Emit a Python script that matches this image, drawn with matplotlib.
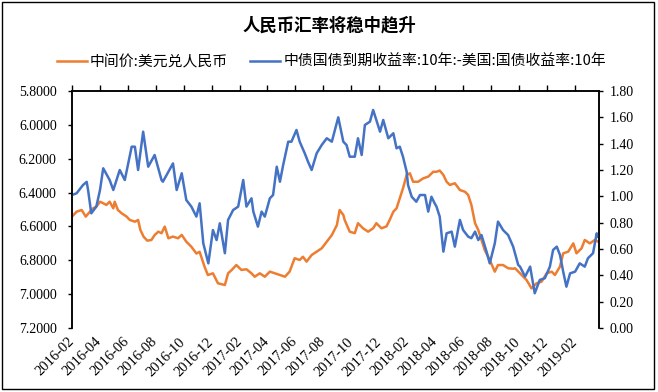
import matplotlib
matplotlib.use("Agg")
import matplotlib.pyplot as plt
import matplotlib.dates as mdates
from matplotlib.ticker import FormatStrFormatter, MultipleLocator
from matplotlib.patches import Rectangle
import pandas as pd

# Texts and colours
TITLE = "人民币汇率将稳中趋升"
CNY_LABEL = "中间价:美元兑人民币"
SPREAD_LABEL = "中债国债到期收益率:10年:-美国:国债收益率:10年"
CNY_COLOR = "#ED7D31"
SPREAD_COLOR = "#4472C4"
CJK_FONT = ["Noto Sans CJK SC", "DejaVu Sans"]
NUM_FONT = "Liberation Serif"

# USD/CNY central parity (left axis, inverted)
cny_dates = [
    "2016-02-01", "2016-02-11", "2016-02-22", "2016-03-02", "2016-03-11", "2016-03-18", "2016-03-25",
    "2016-04-02", "2016-04-09", "2016-04-16", "2016-04-23", "2016-05-01", "2016-05-04", "2016-05-11",
    "2016-05-19", "2016-05-30", "2016-06-06", "2016-06-17", "2016-06-24", "2016-06-29", "2016-07-06",
    "2016-07-14", "2016-07-23", "2016-07-30", "2016-08-07", "2016-08-14", "2016-08-21", "2016-08-29",
    "2016-09-08", "2016-09-19", "2016-09-27", "2016-10-07", "2016-10-18", "2016-10-29", "2016-11-05",
    "2016-11-16", "2016-11-23", "2016-12-04", "2016-12-15", "2016-12-30", "2017-01-06", "2017-01-14",
    "2017-01-24", "2017-02-04", "2017-02-15", "2017-02-26", "2017-03-05", "2017-03-16", "2017-03-27",
    "2017-04-07", "2017-04-18", "2017-04-29", "2017-05-10", "2017-05-20", "2017-05-31", "2017-06-11",
    "2017-06-18", "2017-06-26", "2017-07-07", "2017-07-18", "2017-07-29", "2017-08-09", "2017-08-20",
    "2017-08-31", "2017-09-06", "2017-09-14", "2017-09-17", "2017-09-28", "2017-10-09", "2017-10-16",
    "2017-10-27", "2017-11-07", "2017-11-18", "2017-11-25", "2017-12-06", "2017-12-17", "2017-12-24",
    "2018-01-01", "2018-01-08", "2018-01-15", "2018-01-22", "2018-01-30", "2018-02-06", "2018-02-13",
    "2018-02-24", "2018-03-07", "2018-03-18", "2018-03-29", "2018-04-05", "2018-04-12", "2018-04-20",
    "2018-04-27", "2018-05-04", "2018-05-15", "2018-05-26", "2018-06-06", "2018-06-13", "2018-06-20",
    "2018-06-28", "2018-07-05", "2018-07-12", "2018-07-19", "2018-07-30", "2018-08-10", "2018-08-17",
    "2018-08-28", "2018-09-08", "2018-09-19", "2018-09-23", "2018-10-04", "2018-10-18", "2018-10-29",
    "2018-11-09", "2018-11-20", "2018-12-01", "2018-12-12", "2018-12-19", "2018-12-30", "2019-01-06",
    "2019-01-17", "2019-01-28", "2019-02-04", "2019-02-15", "2019-02-22", "2019-03-05", "2019-03-16",
    "2019-03-23",
]
cny_mid = [
    6.542, 6.513, 6.503, 6.542, 6.513, 6.493, 6.483,
    6.454, 6.463, 6.473, 6.454, 6.493, 6.454, 6.503,
    6.522, 6.542, 6.562, 6.572, 6.562, 6.621, 6.661,
    6.684, 6.680, 6.651, 6.631, 6.640, 6.601, 6.670,
    6.660, 6.670, 6.650, 6.690, 6.720, 6.760, 6.750,
    6.840, 6.887, 6.877, 6.936, 6.946, 6.877, 6.857,
    6.828, 6.857, 6.853, 6.877, 6.897, 6.877, 6.897,
    6.867, 6.877, 6.887, 6.897, 6.867, 6.788, 6.798,
    6.779, 6.808, 6.769, 6.749, 6.729, 6.690, 6.651,
    6.592, 6.503, 6.532, 6.562, 6.631, 6.640, 6.581,
    6.611, 6.631, 6.611, 6.581, 6.611, 6.600, 6.562,
    6.513, 6.493, 6.434, 6.375, 6.296, 6.286, 6.336,
    6.336, 6.316, 6.306, 6.277, 6.277, 6.270, 6.296,
    6.336, 6.355, 6.345, 6.385, 6.395, 6.414, 6.473,
    6.581, 6.621, 6.680, 6.739, 6.798, 6.867, 6.828,
    6.828, 6.847, 6.850, 6.847, 6.877, 6.916, 6.966,
    6.936, 6.926, 6.877, 6.867, 6.887, 6.837, 6.759,
    6.749, 6.700, 6.759, 6.729, 6.680, 6.700, 6.680,
    6.690,
]

# China 10Y minus US 10Y government bond yield (right axis, %)
spread_dates = [
    "2016-02-01", "2016-02-11", "2016-02-25", "2016-03-04", "2016-03-07", "2016-03-14", "2016-03-25",
    "2016-04-02", "2016-04-09", "2016-04-23", "2016-05-01", "2016-05-15", "2016-05-26", "2016-06-10",
    "2016-06-17", "2016-06-24", "2016-07-05", "2016-07-16", "2016-07-30", "2016-08-14", "2016-08-17",
    "2016-08-28", "2016-09-08", "2016-09-16", "2016-09-27", "2016-10-07", "2016-10-18", "2016-10-29",
    "2016-11-05", "2016-11-13", "2016-11-24", "2016-12-04", "2016-12-12", "2016-12-19", "2016-12-30",
    "2017-01-06", "2017-01-17", "2017-01-28", "2017-02-04", "2017-02-08", "2017-02-15", "2017-02-26",
    "2017-03-02", "2017-03-12", "2017-03-20", "2017-03-27", "2017-04-07", "2017-04-14", "2017-04-22",
    "2017-04-29", "2017-05-06", "2017-05-17", "2017-05-24", "2017-06-04", "2017-06-11", "2017-06-22",
    "2017-06-29", "2017-07-07", "2017-07-18", "2017-07-29", "2017-08-09", "2017-08-20", "2017-09-03",
    "2017-09-14", "2017-09-21", "2017-09-28", "2017-10-09", "2017-10-16", "2017-10-24", "2017-10-31",
    "2017-11-11", "2017-11-18", "2017-11-25", "2017-12-03", "2017-12-10", "2017-12-21", "2018-01-01",
    "2018-01-08", "2018-01-15", "2018-01-22", "2018-01-30", "2018-02-02", "2018-02-10", "2018-02-20",
    "2018-02-28", "2018-03-11", "2018-03-18", "2018-03-25", "2018-04-01", "2018-04-05", "2018-04-12",
    "2018-04-20", "2018-04-27", "2018-05-08", "2018-05-15", "2018-05-26", "2018-06-02", "2018-06-13",
    "2018-06-20", "2018-06-28", "2018-07-05", "2018-07-12", "2018-07-23", "2018-07-30", "2018-08-10",
    "2018-08-17", "2018-08-28", "2018-09-08", "2018-09-19", "2018-09-30", "2018-10-04", "2018-10-15",
    "2018-10-26", "2018-11-05", "2018-11-16", "2018-11-27", "2018-12-08", "2018-12-15", "2018-12-23",
    "2018-12-30", "2019-01-06", "2019-01-13", "2019-01-21", "2019-02-01", "2019-02-11", "2019-02-22",
    "2019-03-01", "2019-03-12", "2019-03-20", "2019-03-23",
]
spread_yield = [
    1.010, 1.023, 1.086, 1.110, 1.048, 0.871, 0.922,
    1.048, 1.213, 1.124, 1.048, 1.200, 1.124, 1.377,
    1.377, 1.200, 1.491, 1.225, 1.314, 1.124, 1.111,
    1.180, 1.250, 1.048, 1.175, 0.972, 0.922, 0.846,
    0.947, 0.643, 0.491, 0.744, 0.668, 0.795, 0.568,
    0.821, 0.896, 0.922, 1.048, 1.124, 0.922, 0.985,
    0.884, 0.770, 0.884, 0.846, 0.985, 1.010, 1.225,
    1.111, 1.238, 1.415, 1.415, 1.504, 1.415, 1.327,
    1.264, 1.200, 1.327, 1.390, 1.441, 1.415, 1.600,
    1.415, 1.390, 1.301, 1.301, 1.441, 1.314, 1.542,
    1.567, 1.656, 1.580, 1.491, 1.580, 1.441, 1.479,
    1.365, 1.377, 1.301, 1.187, 1.086, 0.997, 0.959,
    1.010, 1.010, 0.884, 0.997, 0.947, 0.922, 0.846,
    0.580, 0.719, 0.732, 0.618, 0.821, 0.744, 0.694,
    0.682, 0.732, 0.668, 0.706, 0.580, 0.491, 0.643,
    0.808, 0.744, 0.706, 0.618, 0.479, 0.466, 0.390,
    0.466, 0.264, 0.365, 0.378, 0.466, 0.593, 0.618,
    0.555, 0.428, 0.314, 0.415, 0.428, 0.491, 0.466,
    0.530, 0.568, 0.719, 0.694,
]

W, H = 658, 392
fig = plt.figure(figsize=(W / 100, H / 100), dpi=100)
# plot area in pixels: x 72..599, y 91..328
ax = fig.add_axes([72 / W, 1 - 328 / H, (599 - 72) / W, (328 - 91) / H])
ax2 = ax.twinx()

line_cny, = ax.plot(pd.to_datetime(cny_dates), cny_mid, color=CNY_COLOR, lw=1.8)
line_spread, = ax2.plot(pd.to_datetime(spread_dates), spread_yield, color=SPREAD_COLOR, lw=1.8)

# Left axis: exchange rate, reversed
ax.set_ylim(7.2, 5.8)
ax.yaxis.set_major_locator(MultipleLocator(0.2))
ax.yaxis.set_major_formatter(FormatStrFormatter("%.4f"))
# Right axis: yield spread
ax2.set_ylim(0, 1.8)
ax2.yaxis.set_major_locator(MultipleLocator(0.2))
ax2.yaxis.set_major_formatter(FormatStrFormatter("%.2f"))

# Dates: ticks on the top spine, labels below
ax.set_xlim(pd.Timestamp("2016-02-01"), pd.Timestamp("2019-03-25"))
ax.xaxis.set_major_locator(mdates.MonthLocator(bymonth=[2, 4, 6, 8, 10, 12]))
ax.xaxis.set_major_formatter(mdates.DateFormatter("%Y-%m"))
ax.tick_params(axis="x", top=True, bottom=False, labeltop=False, labelbottom=True,
               direction="out", length=4.5, width=1, pad=4, labelsize=10.5)
for lbl in ax.get_xticklabels():
    lbl.set_rotation(45)
    lbl.set_ha("right")
    lbl.set_va("center")
    lbl.set_rotation_mode("anchor")
    lbl.set_family(NUM_FONT)

ax.tick_params(axis="y", direction="out", length=3, width=1, pad=8, labelsize=10)
ax2.tick_params(axis="y", direction="out", length=3, width=1, pad=4.5, labelsize=10)
for lbl in ax.get_yticklabels() + ax2.get_yticklabels():
    lbl.set_family(NUM_FONT)

for a in (ax, ax2):
    a.spines["bottom"].set_visible(False)
    for side in ("top", "left", "right"):
        a.spines[side].set_linewidth(1.1)
        a.spines[side].set_color("black")

# Title and legend
fig.text(0.501, 1 - 25 / H, TITLE, ha="center", va="center", fontsize=12.5,
         fontweight="bold", family=CJK_FONT)
fig.legend([line_cny, line_spread], [CNY_LABEL, SPREAD_LABEL], loc="center",
           bbox_to_anchor=(0.504, 1 - 62 / H), ncol=2, frameon=False,
           prop={"family": CJK_FONT, "size": 10.7}, handlelength=2.0,
           handletextpad=0.2, columnspacing=1.5)

# Outer chart border
fig.add_artist(Rectangle((2 / W, 3 / H), (654 - 2) / W, (390 - 3) / H,
                         transform=fig.transFigure, fill=False, ec="black", lw=1.0))

fig.savefig("out.png", dpi=100)
